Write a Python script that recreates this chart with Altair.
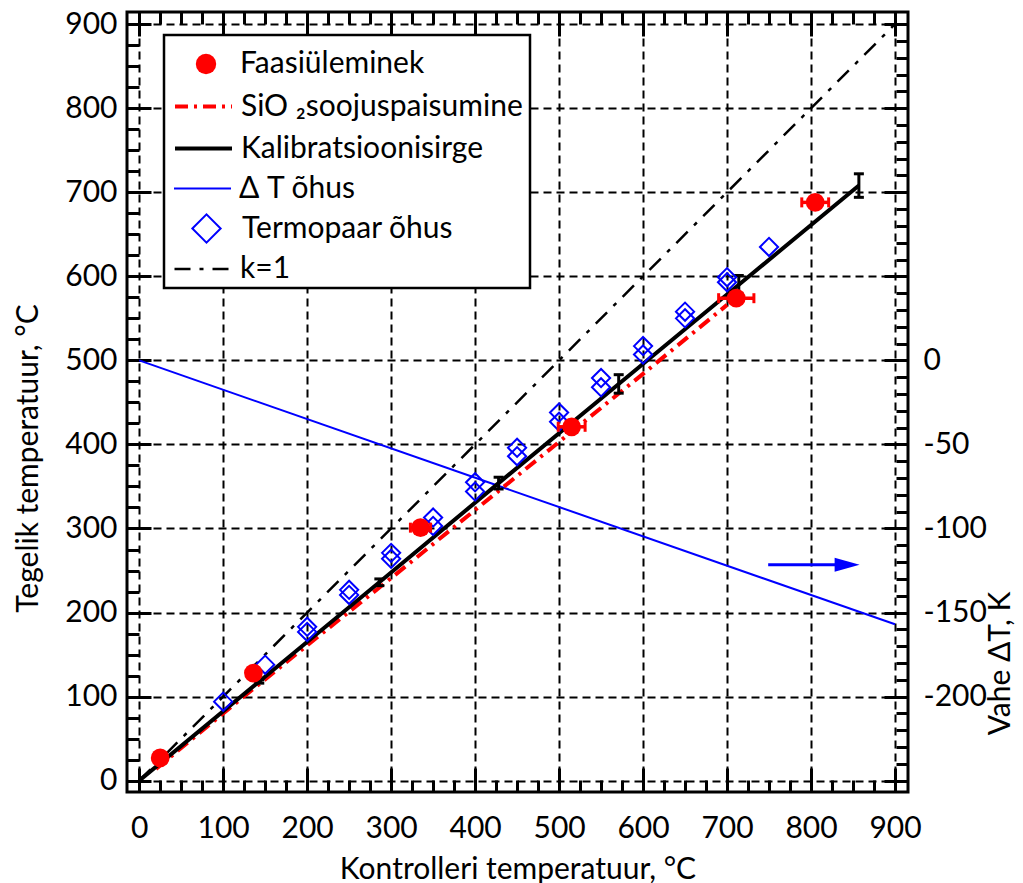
import altair as alt
import pandas as pd

# ---- data -------------------------------------------------------------
# Phase transitions: controller temperature vs. actual temperature, with x-uncertainty
phase_x = [25, 136, 335, 515, 711, 805]
phase_y = [27, 128, 301, 421, 574, 688]
phase_xerr = [4, 6, 12, 16, 21, 16]

# SiO2 thermal expansion
sio2_x = [20, 100, 200, 300, 400, 500, 600, 700]
sio2_y = [14, 80, 161, 241, 322, 403, 484, 566]

# Calibration line
cal_x = [0, 143, 286, 428, 571, 714, 857]
cal_y = [0, 118, 236, 354, 472, 590, 708]
# uncertainty of the calibration line
calerr_x = [143, 286, 428, 571, 714, 857]
calerr_y = [118, 236, 354, 472, 590, 708]
calerr_e = [2, 4, 7, 11, 11, 14]

# Thermocouple in air
tc_x = [100, 150, 200, 200, 250, 250, 300, 300, 350, 350, 400, 400, 450, 450,
        500, 500, 550, 550, 600, 600, 650, 650, 700, 700, 750]
tc_y = [94, 138, 183, 177, 227, 221, 271, 264, 313, 303, 355, 344, 396, 386,
        438, 427, 479, 468, 517, 507, 558, 550, 599, 593, 635]

# Temperature difference in air (right axis)
dt_x = [0, 900]
dt_y = [0, -157]

# k = 1 reference
k1_x = [0, 900]
k1_y = [0, 900]

# arrow pointing at the right-hand axis
arrow_x = [749, 832]
arrow_tip = 843
arrow_y = 257

# axis ticks
major_ticks = list(range(0, 901, 100))
minor_ticks = list(range(0, 901, 25))
dt_labels = [0, -50, -100, -150, -200]
dt_major = list(range(-250, 201, 50))
dt_minor = list(range(-250, 201, 10))

# ---- layout -----------------------------------------------------------
W, H = 781, 780
X_DOM = [-14.5, 915.5]
Y_DOM = [-13.5, 914.5]
DT_DOM = [(Y_DOM[0] - 500) / 2, (Y_DOM[1] - 500) / 2]
FONT = "Lato"
FS = 30
RED = "#ff0000"
BLUE = "#0000ff"
ARROW_HEAD = "M-1,-0.56L1,0L-1,0.56Z"


def xsc():
    return alt.Scale(domain=X_DOM, nice=False, zero=False)


def ysc():
    return alt.Scale(domain=Y_DOM, nice=False, zero=False)


def dsc():
    return alt.Scale(domain=DT_DOM, nice=False, zero=False)


def tick_axis(orient, offset, values, size):
    return alt.Axis(orient=orient, offset=offset, values=values, ticks=True,
                    tickSize=size, tickWidth=3, tickColor="black",
                    labels=False, domain=False, grid=False, title="")


def leg(x, y, **kw):
    base = dict(orient="none", legendX=x, legendY=y, title=None,
                labelFont=FONT, labelFontSize=FS, labelColor="black",
                padding=0, labelLimit=400)
    base.update(kw)
    return alt.Legend(**base)


df_phase = pd.DataFrame({"x": phase_x, "y": phase_y,
                         "lo": [a - e for a, e in zip(phase_x, phase_xerr)],
                         "hi": [a + e for a, e in zip(phase_x, phase_xerr)],
                         "s": "Faasiüleminek"})
df_phase_caps = pd.DataFrame({"x": list(df_phase["lo"]) + list(df_phase["hi"]),
                              "y": phase_y + phase_y})
df_sio2 = pd.DataFrame({"x": sio2_x, "y": sio2_y, "s": "SiO ₂soojuspaisumine"})
df_cal = pd.DataFrame({"x": cal_x, "y": cal_y, "s": "Kalibratsioonisirge"})
df_calerr = pd.DataFrame({"x": calerr_x,
                          "lo": [a - e for a, e in zip(calerr_y, calerr_e)],
                          "hi": [a + e for a, e in zip(calerr_y, calerr_e)]})
df_calcaps = pd.DataFrame({"x": calerr_x + calerr_x,
                           "y": list(df_calerr["lo"]) + list(df_calerr["hi"])})
df_tc = pd.DataFrame({"x": tc_x, "y": tc_y, "s": "Termopaar õhus"})
df_dt = pd.DataFrame({"x": dt_x, "y": dt_y, "s": "Δ T õhus"})
df_k1 = pd.DataFrame({"x": k1_x, "y": k1_y, "s": "k=1"})
df_arrow = pd.DataFrame({"x": [arrow_x[0]], "x2": [arrow_x[1]], "y": [arrow_y],
                         "tip": [arrow_tip]})
df_dummy = pd.DataFrame({"x": [0], "y": [0]})

# ---- axes: labels + dashed grid, and inward ticks on all four sides ----
axes_main = alt.Chart(df_dummy).mark_point(opacity=0).encode(
    x=alt.X("x:Q", scale=xsc(), axis=alt.Axis(
        values=major_ticks, ticks=False, tickSize=0, domain=False,
        grid=True, gridDash=[8, 5], gridColor="black", gridWidth=2, gridOpacity=1,
        labelPadding=21, title="Kontrolleri temperatuur, °C",
        titleY=77, titleBaseline="middle")),
    y=alt.Y("y:Q", scale=ysc(), axis=alt.Axis(
        values=major_ticks, ticks=False, tickSize=0, domain=False,
        grid=True, gridDash=[8, 5], gridColor="black", gridWidth=2, gridOpacity=1,
        labelPadding=10, title="Tegelik temperatuur, °C",
        titleAngle=270, titleX=-99, titleY=446, titleBaseline="middle",
        titleAlign="center")),
)

ticks_minor = alt.Chart(df_dummy).mark_point(opacity=0).encode(
    x=alt.X("x:Q", scale=xsc(), axis=tick_axis("top", -H, minor_ticks, 12)),
    y=alt.Y("y:Q", scale=ysc(), axis=tick_axis("right", -W, minor_ticks, 12)),
)
ticks_major = alt.Chart(df_dummy).mark_point(opacity=0).encode(
    x=alt.X("x:Q", scale=xsc(), axis=tick_axis("top", -H, major_ticks, 24)),
    y=alt.Y("y:Q", scale=ysc(), axis=tick_axis("right", -W, major_ticks, 24)),
)
ticks_top_minor = alt.Chart(df_dummy).mark_point(opacity=0).encode(
    x=alt.X("x:Q", scale=xsc(), axis=tick_axis("bottom", -H, minor_ticks, 12)),
    y=alt.Y("y:Q", scale=dsc(), axis=tick_axis("left", -W, dt_minor, 12)),
)
ticks_top_major = alt.Chart(df_dummy).mark_point(opacity=0).encode(
    x=alt.X("x:Q", scale=xsc(), axis=tick_axis("bottom", -H, major_ticks, 24)),
    y=alt.Y("y:Q", scale=dsc(), axis=tick_axis("left", -W, dt_major, 24)),
)

# ---- legend box ----
legend_box = alt.Chart(df_dummy).mark_rect(
    fill="white", stroke="black", strokeWidth=2.5
).encode(x=alt.value(37), x2=alt.value(403), y=alt.value(23), y2=alt.value(276))

LINE_SYM = 57 ** 2

# ---- data layers ----
k1_line = alt.Chart(df_k1).mark_line(
    color="black", strokeWidth=2.5, strokeDash=[16, 9, 4, 9]
).encode(
    x=alt.X("x:Q", scale=xsc(), axis=None),
    y=alt.Y("y:Q", scale=ysc(), axis=None),
    opacity=alt.Opacity("s:N", scale=alt.Scale(range=[1]), legend=leg(
        46, 227, symbolType="stroke", symbolSize=LINE_SYM, symbolStrokeColor="black",
        symbolStrokeWidth=2.5, symbolDash=[16, 9, 4, 9], labelOffset=7)),
)

dt_line = alt.Chart(df_dt).mark_line(strokeWidth=2).encode(
    x=alt.X("x:Q", scale=xsc(), axis=None),
    y=alt.Y("y:Q", scale=dsc(), axis=alt.Axis(
        orient="right", values=dt_labels, ticks=False, tickSize=0, domain=False,
        grid=False, labelPadding=15,
        labelExpr="datum.value < 0 ? '-' + abs(datum.value) : '\u2008' + datum.value",
        title="Vahe ΔT, K", titleAngle=270,
        titleX=92, titleY=651, titleBaseline="middle", titleAlign="center")),
    color=alt.Color("s:N", scale=alt.Scale(range=[BLUE]), legend=leg(
        46, 147, symbolType="stroke", symbolSize=LINE_SYM, symbolStrokeWidth=2,
        labelOffset=7)),
)

arrow_shaft = alt.Chart(df_arrow).mark_rule(color=BLUE, strokeWidth=3).encode(
    x=alt.X("x:Q", scale=xsc(), axis=None), x2="x2:Q",
    y=alt.Y("y:Q", scale=ysc(), axis=None),
)
arrow_head = alt.Chart(df_arrow).mark_point(
    shape=ARROW_HEAD, filled=True, color=BLUE, opacity=1, size=625
).encode(
    x=alt.X("tip:Q", scale=xsc(), axis=None),
    y=alt.Y("y:Q", scale=ysc(), axis=None),
)

sio2_line = alt.Chart(df_sio2).mark_line(
    color=RED, strokeWidth=4, strokeDash=[13, 6, 3, 6]
).encode(
    x=alt.X("x:Q", scale=xsc(), axis=None),
    y=alt.Y("y:Q", scale=ysc(), axis=None),
    strokeDash=alt.StrokeDash("s:N", scale=alt.Scale(range=[[13, 6, 3, 6]]), legend=leg(
        46, 64, symbolType="stroke", symbolSize=LINE_SYM, symbolStrokeColor=RED,
        symbolStrokeWidth=4, labelOffset=7)),
)

cal_line = alt.Chart(df_cal).mark_line(strokeWidth=4).encode(
    x=alt.X("x:Q", scale=xsc(), axis=None),
    y=alt.Y("y:Q", scale=ysc(), axis=None),
    stroke=alt.Stroke("s:N", scale=alt.Scale(range=["black"]), legend=leg(
        46, 106, symbolType="stroke", symbolSize=LINE_SYM, symbolStrokeWidth=4,
        labelOffset=7)),
)

cal_err = alt.Chart(df_calerr).mark_rule(color="black", strokeWidth=3).encode(
    x=alt.X("x:Q", scale=xsc(), axis=None),
    y=alt.Y("lo:Q", scale=ysc(), axis=None), y2="hi:Q",
)
cal_caps = alt.Chart(df_calcaps).mark_tick(
    color="black", orient="horizontal", size=10, thickness=3, opacity=1
).encode(
    x=alt.X("x:Q", scale=xsc(), axis=None),
    y=alt.Y("y:Q", scale=ysc(), axis=None),
)

tc_points = alt.Chart(df_tc).mark_point(
    filled=False, color=BLUE, strokeWidth=2, size=330, opacity=1
).encode(
    x=alt.X("x:Q", scale=xsc(), axis=None),
    y=alt.Y("y:Q", scale=ysc(), axis=None),
    shape=alt.Shape("s:N", scale=alt.Scale(range=["diamond"]), legend=leg(
        64, 201, symbolSize=800, symbolStrokeColor=BLUE, symbolFillColor="white",
        symbolStrokeWidth=2, labelOffset=20)),
)

phase_err = alt.Chart(df_phase).mark_rule(color=RED, strokeWidth=3.5).encode(
    x=alt.X("lo:Q", scale=xsc(), axis=None), x2="hi:Q",
    y=alt.Y("y:Q", scale=ysc(), axis=None),
)
phase_caps = alt.Chart(df_phase_caps).mark_tick(
    color=RED, orient="vertical", size=10, thickness=3, opacity=1
).encode(
    x=alt.X("x:Q", scale=xsc(), axis=None),
    y=alt.Y("y:Q", scale=ysc(), axis=None),
)
phase_points = alt.Chart(df_phase).mark_circle(size=350, opacity=1).encode(
    x=alt.X("x:Q", scale=xsc(), axis=None),
    y=alt.Y("y:Q", scale=ysc(), axis=None),
    fill=alt.Fill("s:N", scale=alt.Scale(range=[RED]), legend=leg(
        64, 37, symbolType="circle", symbolSize=415, symbolStrokeWidth=0,
        labelOffset=19)),
)

chart = alt.layer(
    axes_main, ticks_minor, ticks_major, ticks_top_minor, ticks_top_major,
    legend_box, k1_line, dt_line, arrow_shaft, arrow_head, sio2_line, cal_line,
    cal_err, cal_caps, tc_points, phase_err, phase_caps, phase_points,
).resolve_scale(
    x="independent", y="independent"
).properties(
    width=W, height=H,
    autosize=alt.AutoSizeParams(type="none"),
    padding={"left": 127, "top": 12, "right": 115, "bottom": 91},
    background="white",
).configure_view(
    stroke="black", strokeWidth=3
).configure_axis(
    labelFont=FONT, labelFontSize=FS, labelColor="black",
    titleFont=FONT, titleFontSize=FS, titleColor="black", titleFontWeight="normal",
)

chart.save("out.html", embed_options={"renderer": "svg", "actions": False})
